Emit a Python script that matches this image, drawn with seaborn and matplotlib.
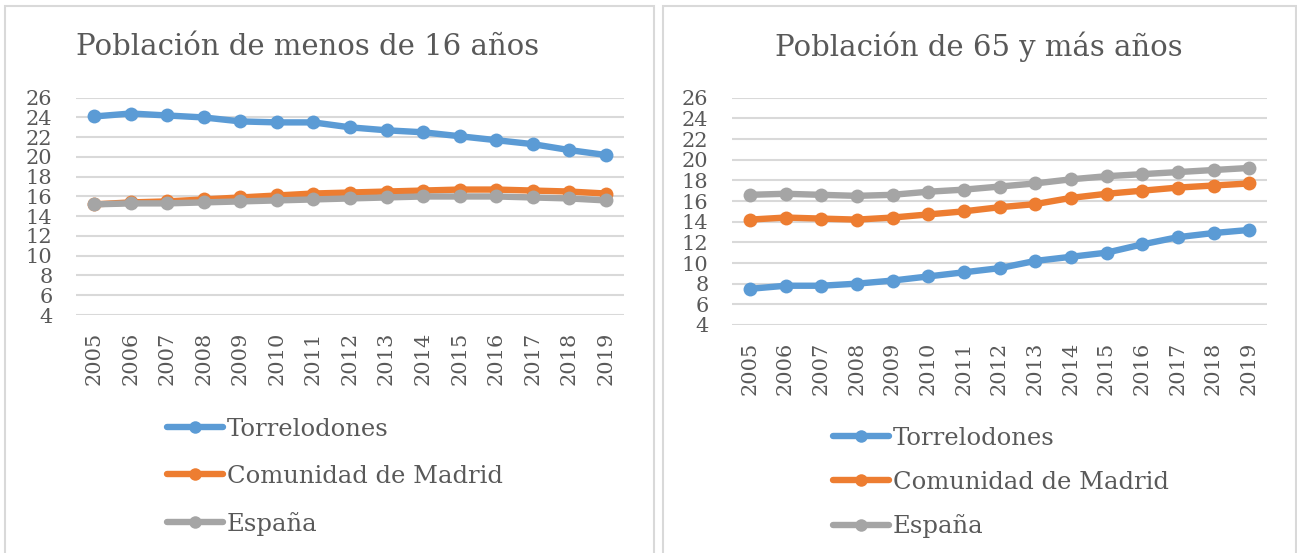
import pandas as pd
import matplotlib
matplotlib.use("Agg")
import matplotlib.pyplot as plt
from matplotlib.lines import Line2D
from matplotlib.patches import Rectangle
import seaborn as sns

# datos
years = list(range(2005, 2020))
series = ["Torrelodones", "Comunidad de Madrid", "España"]
colores = ["#5B9BD5", "#ED7D31", "#A5A5A5"]

# Población de menos de 16 años (%)
menos16_torre = [24.1, 24.4, 24.2, 24.0, 23.6, 23.5, 23.5, 23.0, 22.7, 22.5, 22.1, 21.7, 21.3, 20.7, 20.2]
menos16_madrid = [15.2, 15.4, 15.5, 15.7, 15.9, 16.1, 16.3, 16.4, 16.5, 16.6, 16.7, 16.7, 16.6, 16.5, 16.3]
menos16_espana = [15.2, 15.3, 15.3, 15.4, 15.5, 15.6, 15.7, 15.8, 15.9, 16.0, 16.0, 16.0, 15.9, 15.8, 15.6]

# Población de 65 y más años (%)
mas65_torre = [7.5, 7.8, 7.8, 8.0, 8.3, 8.7, 9.1, 9.5, 10.2, 10.6, 11.0, 11.8, 12.5, 12.9, 13.2]
mas65_madrid = [14.2, 14.4, 14.3, 14.2, 14.4, 14.7, 15.0, 15.4, 15.7, 16.3, 16.7, 17.0, 17.3, 17.5, 17.7]
mas65_espana = [16.6, 16.7, 16.6, 16.5, 16.6, 16.9, 17.1, 17.4, 17.7, 18.1, 18.4, 18.6, 18.8, 19.0, 19.2]

yticks = list(range(4, 27, 2))


def tabla(valores):
    filas = []
    for nombre, vals in zip(series, valores):
        for y, v in zip(years, vals):
            filas.append({"year": y, "valor": v, "serie": nombre})
    return pd.DataFrame(filas)


sns.set_theme(style="white")
plt.rcParams["font.family"] = ["DejaVu Serif", "DejaVu Sans"]
gris_texto = "#595959"
gris_rejilla = "#D9D9D9"

W, H = 1297, 553
fig = plt.figure(figsize=(W / 100, H / 100), dpi=100)

# marcos de los dos gráficos (el borde inferior queda fuera de la imagen)
fig.patches.append(Rectangle((5 / W, -0.02), 649 / W, 1.02 - 6 / H, transform=fig.transFigure,
                             fill=False, edgecolor=gris_rejilla, lw=1.5))
fig.patches.append(Rectangle((663 / W, -0.02), 633 / W, 1.02 - 6 / H, transform=fig.transFigure,
                             fill=False, edgecolor=gris_rejilla, lw=1.5))

paneles = [
    # (datos, titulo, [x0, x1, ytop, ybottom] en px, centro titulo, leyenda (x, y), espaciado)
    ([menos16_torre, menos16_madrid, menos16_espana], "Población de menos de 16 años",
     (76, 624, 97.7, 315), 308, (167, 418), 0.98),
    ([mas65_torre, mas65_madrid, mas65_espana], "Población de 65 y más años",
     (732, 1267, 97.7, 325), 979, (833, 427), 0.85),
]

for datos, titulo, (x0, x1, yt, yb), tx, (lx, ly), esp in paneles:
    ax = fig.add_axes([x0 / W, 1 - yb / H, (x1 - x0) / W, (yb - yt) / H])
    df = tabla(datos)
    sns.lineplot(data=df, x="year", y="valor", hue="serie", palette=colores,
                 marker="o", markersize=10, markeredgewidth=0, linewidth=4.6,
                 legend=False, ax=ax)
    ax.set_xlim(2004.5, 2019.5)
    ax.set_ylim(4, 26)
    ax.set_yticks(yticks)
    ax.set_xticks(years)
    ax.set_xticklabels([str(y) for y in years], rotation=90)
    ax.set_xlabel("")
    ax.set_ylabel("")
    for s in ax.spines.values():
        s.set_visible(False)
    ax.grid(axis="y", color=gris_rejilla, lw=1.5)
    ax.grid(axis="x", visible=False)
    ax.set_axisbelow(True)
    ax.tick_params(axis="y", length=0, pad=17, labelsize=15, labelcolor=gris_texto)
    ax.tick_params(axis="x", length=0, pad=12, labelsize=15, labelcolor=gris_texto)

    fig.text(tx / W, 1 - 47 / H, titulo, ha="center", va="center",
             fontsize=21, color=gris_texto)

    handles = [Line2D([], [], color=c, lw=4.6, marker="o", markersize=9, markeredgewidth=0)
               for c in colores]
    leg = ax.legend(handles, series, loc="upper left",
                    bbox_to_anchor=(lx / W, 1 - ly / H), bbox_transform=fig.transFigure,
                    frameon=False, fontsize=17.5, handlelength=2.3, handletextpad=0.16,
                    labelspacing=esp, borderaxespad=0, borderpad=0)
    for t in leg.get_texts():
        t.set_color(gris_texto)

fig.savefig("out.png", dpi=100)
